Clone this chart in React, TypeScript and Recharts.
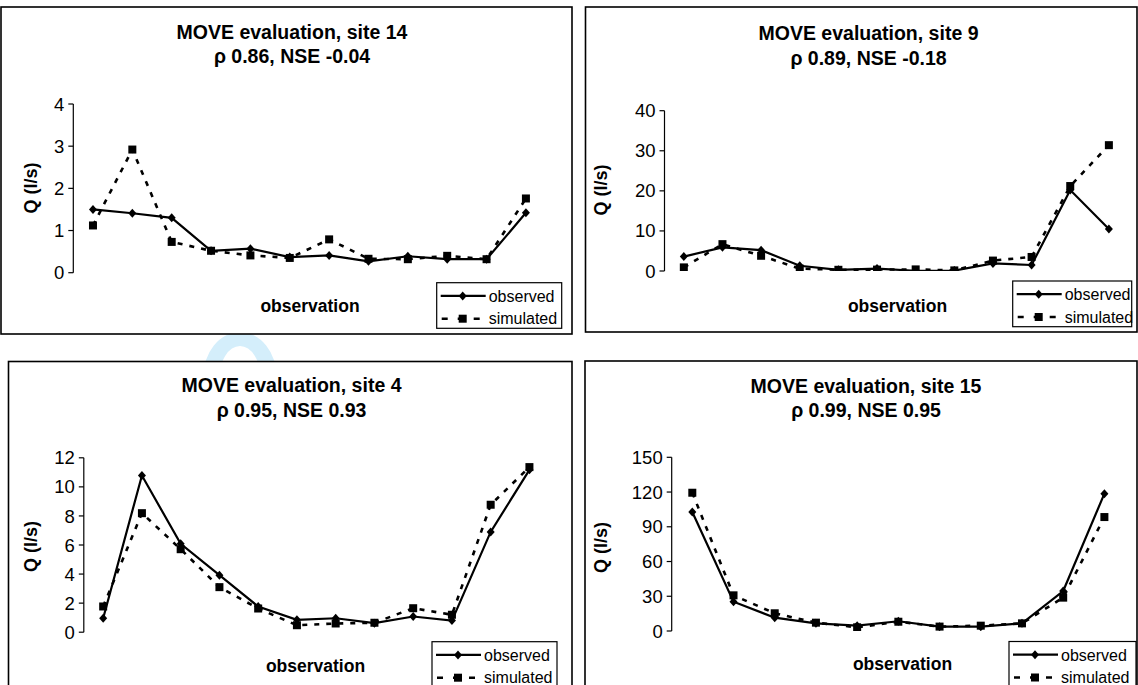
import React from 'react';
import { LineChart, Line, XAxis, YAxis } from 'recharts';

// ---------- data ----------
const observations12 = ['1', '2', '3', '4', '5', '6', '7', '8', '9', '10', '11', '12'];
const observations11 = ['1', '2', '3', '4', '5', '6', '7', '8', '9', '10', '11'];

const site14Observed = [1.5, 1.41, 1.3, 0.52, 0.57, 0.37, 0.41, 0.27, 0.39, 0.32, 0.32, 1.42];
const site14Simulated = [1.12, 2.92, 0.73, 0.52, 0.41, 0.35, 0.79, 0.33, 0.32, 0.4, 0.32, 1.76];

const site9Observed = [3.6, 5.9, 5.2, 1.3, 0.3, 0.6, 0.05, 0.1, 1.9, 1.5, 20.2, 10.5];
const site9Simulated = [0.9, 6.7, 3.8, 0.6, 0.3, 0.35, 0.4, 0.15, 2.6, 3.5, 21.2, 31.4];

const site4Observed = [0.96, 10.78, 6.08, 3.92, 1.77, 0.85, 0.96, 0.62, 1.08, 0.8, 6.9, 11.17];
const site4Simulated = [1.77, 8.19, 5.71, 3.1, 1.63, 0.48, 0.6, 0.65, 1.65, 1.2, 8.77, 11.36];

const site15Observed = [102.8, 25.3, 11.5, 6.6, 4.6, 8.4, 3.7, 3.7, 6.6, 34.5, 118.6];
const site15Simulated = [119.4, 30.8, 15.3, 7.2, 3.2, 8.0, 3.8, 4.6, 6.6, 28.8, 98.4];

const site14Ticks = [0, 1, 2, 3, 4];
const site9Ticks = [0, 10, 20, 30, 40];
const site4Ticks = [0, 2, 4, 6, 8, 10, 12];
const site15Ticks = [0, 30, 60, 90, 120, 150];

const FONT = 'Liberation Sans, Arial, Helvetica, sans-serif';
const Y_W = 60;

// ---------- markers ----------
const Diamond = (props: any) => {
  const { cx, cy, index } = props;
  if (cx == null || cy == null) return <g key={index} />;
  return (
    <path
      key={index}
      d={`M${cx},${cy - 4.5}L${cx + 4},${cy}L${cx},${cy + 4.5}L${cx - 4},${cy}Z`}
      fill="#000"
    />
  );
};
const Square = (props: any) => {
  const { cx, cy, index } = props;
  if (cx == null || cy == null) return <g key={index} />;
  return <rect key={index} x={cx - 4} y={cy - 4} width={8} height={8} fill="#000" />;
};

type Rect = { x: number; y: number; w: number; h: number };
type PanelProps = {
  frame: Rect;
  plot: { l: number; t: number; r: number; b: number };
  title: string;
  subtitle: string;
  titleX: number;
  titleY1: number;
  titleY2: number;
  yLabel: { x: number; y: number };
  xLabel: { x: number; y: number };
  legend: Rect;
  cats: string[];
  observed: number[];
  simulated: number[];
  ticks: number[];
};

const Panel = (p: PanelProps) => {
  const data = p.cats.map((c, i) => ({ obs: c, observed: p.observed[i], simulated: p.simulated[i] }));
  const plotW = p.plot.r - p.plot.l;
  const pad = plotW / (2 * p.cats.length);
  const margin = {
    left: p.plot.l - p.frame.x - Y_W,
    top: p.plot.t - p.frame.y,
    right: p.frame.x + p.frame.w - p.plot.r,
    bottom: p.frame.y + p.frame.h - p.plot.b,
  };
  const dom: [number, number] = [p.ticks[0], p.ticks[p.ticks.length - 1]];
  const lg = p.legend;
  return (
    <>
      <div style={{ position: 'absolute', left: p.frame.x, top: p.frame.y }}>
        <LineChart width={p.frame.w} height={p.frame.h} data={data} margin={margin}>
          <XAxis
            xAxisId="top"
            orientation="top"
            dataKey="obs"
            height={0}
            tick={false}
            tickLine={false}
            axisLine={{ stroke: '#a6a6a6', strokeWidth: 1.3 }}
            padding={{ left: pad, right: pad }}
          />
          <YAxis
            yAxisId="right"
            orientation="right"
            width={0}
            domain={dom}
            ticks={p.ticks}
            tick={false}
            tickLine={false}
            axisLine={{ stroke: '#a6a6a6', strokeWidth: 1.3 }}
          />
          <XAxis
            dataKey="obs"
            height={0}
            tick={false}
            tickLine={false}
            axisLine={{ stroke: '#000', strokeWidth: 1.2 }}
            padding={{ left: pad, right: pad }}
          />
          <YAxis
            width={Y_W}
            domain={dom}
            ticks={p.ticks}
            interval={0}
            allowDataOverflow
            tickSize={5}
            tickMargin={4}
            tickLine={{ stroke: '#000', strokeWidth: 1.2 }}
            axisLine={{ stroke: '#000', strokeWidth: 1.2 }}
            tick={{ fill: '#000', fontSize: 18.5, fontFamily: FONT }}
          />
          <Line
            dataKey="observed"
            stroke="#000"
            strokeWidth={2.2}
            dot={Diamond}
            activeDot={false}
            isAnimationActive={false}
          />
          <Line
            dataKey="simulated"
            stroke="#000"
            strokeWidth={2.6}
            strokeDasharray="5 7"
            dot={Square}
            activeDot={false}
            isAnimationActive={false}
          />
        </LineChart>
      </div>
      <svg
        width={1138}
        height={685}
        style={{ position: 'absolute', left: 0, top: 0, pointerEvents: 'none', overflow: 'visible' }}
        fontFamily={FONT}
      >
        <rect x={p.frame.x} y={p.frame.y} width={p.frame.w} height={p.frame.h} fill="none" stroke="#000" strokeWidth={1.6} />
        <text x={p.titleX} y={p.titleY1} textAnchor="middle" fontSize={19.5} fontWeight="bold" fill="#000">
          {p.title}
        </text>
        <text x={p.titleX} y={p.titleY2} textAnchor="middle" fontSize={19.5} fontWeight="bold" fill="#000">
          {p.subtitle}
        </text>
        <text
          x={p.yLabel.x}
          y={p.yLabel.y}
          textAnchor="middle"
          fontSize={18}
          fontWeight="bold"
          fill="#000"
          transform={`rotate(-90 ${p.yLabel.x} ${p.yLabel.y})`}
        >
          Q (l/s)
        </text>
        <text x={p.xLabel.x} y={p.xLabel.y} textAnchor="middle" fontSize={17.5} fontWeight="bold" fill="#000">
          observation
        </text>
        <rect x={lg.x} y={lg.y} width={lg.w} height={lg.h} fill="#fff" stroke="#000" strokeWidth={1.2} />
        <line x1={lg.x + 4} x2={lg.x + 49} y1={lg.y + 13.2} y2={lg.y + 13.2} stroke="#000" strokeWidth={2.2} />
        <path
          d={`M${lg.x + 26},${lg.y + 13.2 - 4.5}L${lg.x + 30},${lg.y + 13.2}L${lg.x + 26},${lg.y + 13.2 + 4.5}L${lg.x + 22},${lg.y + 13.2}Z`}
          fill="#000"
        />
        <line
          x1={lg.x + 5}
          x2={lg.x + 47}
          y1={lg.y + 36}
          y2={lg.y + 36}
          stroke="#000"
          strokeWidth={2.6}
          strokeDasharray="6 10"
        />
        <rect x={lg.x + 22} y={lg.y + 32} width={8} height={8} fill="#000" />
        <text x={lg.x + 52} y={lg.y + 19} fontSize={16} fill="#000">
          observed
        </text>
        <text x={lg.x + 52} y={lg.y + 41.5} fontSize={16} fill="#000">
          simulated
        </text>
      </svg>
    </>
  );
};

export default function App() {
  return (
    <div
      style={{
        position: 'absolute',
        left: 0,
        top: 0,
        width: 1138,
        height: 685,
        overflow: 'hidden',
        background: '#fff',
        fontFamily: FONT,
      }}
    >
      <svg width={1138} height={685} style={{ position: 'absolute', left: 0, top: 0 }}>
        <defs>
          <clipPath id="wm">
            <rect x={190} y={334} width={100} height={28} />
          </clipPath>
        </defs>
        <g clipPath="url(#wm)">
          <path
            fillRule="evenodd"
            fill="#d4eefb"
            d="M203,378 a37,46 0 1,0 74,0 a37,46 0 1,0 -74,0 Z M219,380 a21,34 0 1,0 42,0 a21,34 0 1,0 -42,0 Z"
          />
        </g>
      </svg>
      <Panel
        frame={{ x: 1, y: 7, w: 571, h: 327 }}
        plot={{ l: 73.3, t: 104, r: 545.6, b: 272.7 }}
        title="MOVE evaluation, site 14"
        subtitle="ρ 0.86, NSE -0.04"
        titleX={292}
        titleY1={39}
        titleY2={63.3}
        yLabel={{ x: 37, y: 188 }}
        xLabel={{ x: 310, y: 311.5 }}
        legend={{ x: 436.7, y: 282.7, w: 125, h: 45.6 }}
        cats={observations12}
        observed={site14Observed}
        simulated={site14Simulated}
        ticks={site14Ticks}
      />
      <Panel
        frame={{ x: 585.5, y: 7, w: 551.5, h: 325 }}
        plot={{ l: 664, t: 110.7, r: 1127.7, b: 271 }}
        title="MOVE evaluation, site 9"
        subtitle="ρ 0.89, NSE -0.18"
        titleX={868.5}
        titleY1={40}
        titleY2={64.5}
        yLabel={{ x: 607, y: 190 }}
        xLabel={{ x: 897.5, y: 311.5 }}
        legend={{ x: 1012.7, y: 281, w: 119, h: 45.7 }}
        cats={observations12}
        observed={site9Observed}
        simulated={site9Simulated}
        ticks={site9Ticks}
      />
      <Panel
        frame={{ x: 8.5, y: 361.5, w: 563.5, h: 340 }}
        plot={{ l: 83.3, t: 457.3, r: 548.3, b: 631.7 }}
        title="MOVE evaluation, site 4"
        subtitle="ρ 0.95, NSE 0.93"
        titleX={291.5}
        titleY1={392.3}
        titleY2={416.7}
        yLabel={{ x: 37, y: 546.5 }}
        xLabel={{ x: 315.5, y: 671.7 }}
        legend={{ x: 432, y: 641.7, w: 125, h: 46 }}
        cats={observations12}
        observed={site4Observed}
        simulated={site4Simulated}
        ticks={site4Ticks}
      />
      <Panel
        frame={{ x: 585, y: 361, w: 552, h: 340 }}
        plot={{ l: 671.7, t: 457.3, r: 1125, b: 631 }}
        title="MOVE evaluation, site 15"
        subtitle="ρ 0.99, NSE 0.95"
        titleX={866}
        titleY1={393.3}
        titleY2={417.3}
        yLabel={{ x: 606.5, y: 547.5 }}
        xLabel={{ x: 902.5, y: 670 }}
        legend={{ x: 1009, y: 641.5, w: 127, h: 46 }}
        cats={observations11}
        observed={site15Observed}
        simulated={site15Simulated}
        ticks={site15Ticks}
      />
    </div>
  );
}
